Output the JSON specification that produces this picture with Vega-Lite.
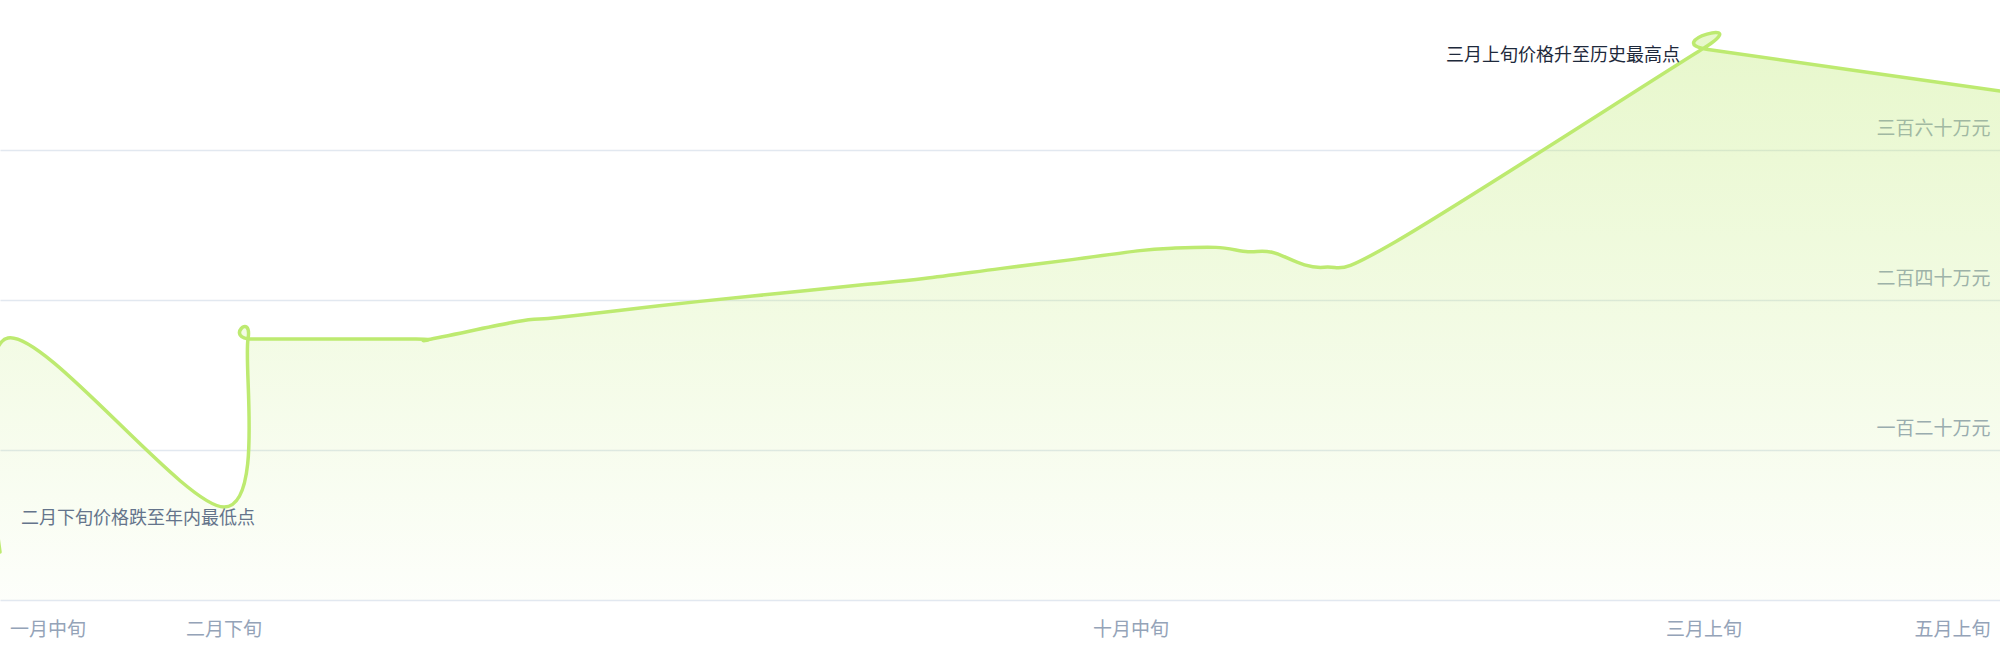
{
  "$schema": "https://vega.github.io/schema/vega-lite/v6.json",
  "width": 2000,
  "height": 600,
  "padding": {"left": 0, "top": 0, "right": 0, "bottom": 60},
  "autosize": {"type": "none"},
  "background": "#ffffff",
  "datasets": {
    "series": [
      {"date": "2023-01-01", "value": 38.4},
      {"date": "2023-01-03", "value": 209.6},
      {"date": "2023-02-26", "value": 74.4},
      {"date": "2023-03-04", "value": 208.8},
      {"date": "2023-03-05", "value": 208.8},
      {"date": "2023-04-15", "value": 208.8},
      {"date": "2023-04-18", "value": 208.4},
      {"date": "2023-05-10", "value": 222.6},
      {"date": "2023-05-18", "value": 225.2},
      {"date": "2023-05-26", "value": 228},
      {"date": "2023-06-10", "value": 233.6},
      {"date": "2023-06-25", "value": 238.9},
      {"date": "2023-07-15", "value": 245.4},
      {"date": "2023-08-04", "value": 252},
      {"date": "2023-08-20", "value": 257.2},
      {"date": "2023-09-08", "value": 265.1},
      {"date": "2023-09-26", "value": 272.3},
      {"date": "2023-10-13", "value": 279.5},
      {"date": "2023-10-21", "value": 281.4},
      {"date": "2023-11-01", "value": 282.1},
      {"date": "2023-11-09", "value": 278.6},
      {"date": "2023-11-15", "value": 278.2},
      {"date": "2023-11-28", "value": 266.2},
      {"date": "2023-12-16", "value": 286.8},
      {"date": "2024-03-02", "value": 441.6},
      {"date": "2024-03-03", "value": 440.4},
      {"date": "2024-05-15", "value": 407.2}
    ],
    "notes": [
      {"date": "2023-02-26", "value": 74.4, "kind": "low", "note": "二月下旬价格跌至年内最低点"},
      {"date": "2024-03-02", "value": 441.6, "kind": "high", "note": "三月上旬价格升至历史最高点"}
    ]
  },
  "encoding": {
    "x": {
      "field": "date",
      "type": "temporal",
      "scale": {
        "type": "utc",
        "domain": [
          {"year": 2023, "month": 1, "date": 1, "utc": true},
          {"year": 2024, "month": 5, "date": 15, "utc": true}
        ]
      },
      "axis": {
        "orient": "bottom",
        "title": null,
        "domain": false,
        "ticks": false,
        "grid": false,
        "labelFlush": false,
        "labelOverlap": false,
        "labelBound": false,
        "labelPadding": 29,
        "labelBaseline": "middle",
        "labelColor": "#94a3b8",
        "labelFont": "Noto Sans CJK SC",
        "labelFontSize": 19,
        "values": [
          {"year": 2023, "month": 1, "date": 12, "hours": 21, "utc": true},
          {"year": 2023, "month": 2, "date": 25, "hours": 21, "utc": true},
          {"year": 2023, "month": 10, "date": 10, "hours": 15, "utc": true},
          {"year": 2024, "month": 3, "date": 1, "hours": 21, "utc": true},
          {"year": 2024, "month": 5, "date": 3, "utc": true}
        ],
        "labelExpr": "datum.index < 0.1 ? '一月中旬' : datum.index < 0.3 ? '二月下旬' : datum.index < 0.6 ? '十月中旬' : datum.index < 0.9 ? '三月上旬' : '五月上旬'"
      }
    },
    "y": {
      "field": "value",
      "type": "quantitative",
      "scale": {"domain": [0, 480]},
      "axis": {
        "orient": "right",
        "title": null,
        "domain": false,
        "ticks": false,
        "values": [0, 120, 240, 360],
        "grid": true,
        "gridColor": "#e2e8f0",
        "gridWidth": 1.5,
        "labelAlign": "right",
        "labelBaseline": "middle",
        "labelPadding": -10,
        "labelOffset": -22,
        "labelColor": "#94a3b8",
        "labelFont": "Noto Sans CJK SC",
        "labelFontSize": 19,
        "labelExpr": "datum.value == 120 ? '一百二十万元' : datum.value == 240 ? '二百四十万元' : datum.value == 360 ? '三百六十万元' : ''"
      }
    }
  },
  "layer": [
    {
      "data": {"name": "series"},
      "mark": {
        "type": "area",
        "interpolate": "cardinal",
        "clip": true,
        "color": {
          "gradient": "linear",
          "x1": 0, "y1": 0, "x2": 0, "y2": 1,
          "stops": [
            {"offset": 0, "color": "rgba(189,234,112,0.36)"},
            {"offset": 1, "color": "rgba(189,234,112,0.03)"}
          ]
        }
      }
    },
    {
      "data": {"name": "series"},
      "mark": {
        "type": "line",
        "interpolate": "cardinal",
        "clip": true,
        "color": "#bdea70",
        "strokeWidth": 3.5,
        "strokeCap": "round",
        "strokeJoin": "round"
      }
    },
    {
      "data": {"name": "notes"},
      "transform": [{"filter": "datum.kind == 'low'"}],
      "mark": {
        "type": "text",
        "align": "right",
        "baseline": "middle",
        "dx": 31,
        "dy": 12,
        "font": "Noto Sans CJK SC",
        "fontSize": 18,
        "color": "#64748b"
      },
      "encoding": {"text": {"field": "note"}}
    },
    {
      "data": {"name": "notes"},
      "transform": [{"filter": "datum.kind == 'high'"}],
      "mark": {
        "type": "text",
        "align": "right",
        "baseline": "middle",
        "dx": -24,
        "dy": 8,
        "font": "Noto Sans CJK SC",
        "fontSize": 18,
        "color": "#1e293b"
      },
      "encoding": {"text": {"field": "note"}}
    }
  ],
  "config": {
    "view": {"stroke": null}
  }
}
